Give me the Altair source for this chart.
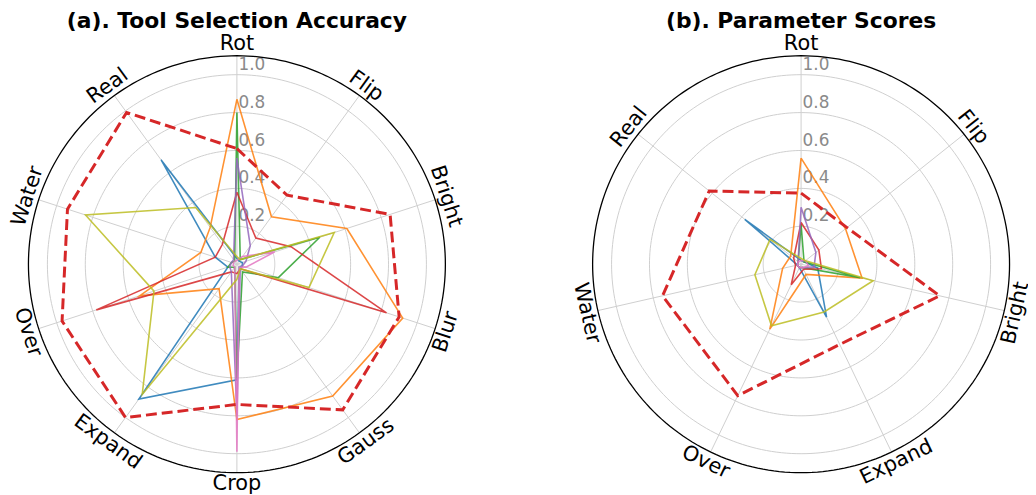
import altair as alt
import pandas as pd

# ---------------- data ----------------
AXES_A = ["Rot", "Flip", "Bright", "Blur", "Gauss", "Crop", "Expand", "Over", "Water", "Real"]
AXES_B = ["Rot", "Flip", "Bright", "Expand", "Over", "Water", "Real"]

SERIES_NAMES = ["M1", "M2", "M3", "M4", "M5", "M6", "M7", "Ours"]

# (a) Tool Selection Accuracy
a_m1 = [0.03, 0.02, 0.03, 0.03, 0.02, 0.61, 0.88, 0.05, 0.12, 0.68]
a_m2 = [0.87, 0.31, 0.61, 0.92, 0.86, 0.82, 0.16, 0.54, 0.20, 0.24]
a_m3 = [0.80, 0.03, 0.46, 0.23, 0.05, 0.60, 0.02, 0.05, 0.03, 0.02]
a_m4 = [0.38, 0.17, 0.30, 0.83, 0.03, 0.05, 0.05, 0.78, 0.12, 0.13]
a_m5 = [0.56, 0.12, 0.05, 0.03, 0.03, 0.80, 0.05, 0.04, 0.03, 0.03]
a_m6 = [0.02, 0.05, 0.21, 0.05, 0.02, 0.99, 0.02, 0.02, 0.02, 0.02]
a_m7 = [0.04, 0.03, 0.54, 0.40, 0.03, 0.08, 0.85, 0.46, 0.84, 0.37]
a_ours = [0.61, 0.45, 0.85, 0.90, 0.95, 0.74, 1.00, 0.97, 0.94, 0.99]

# (b) Parameter Scores
b_m1 = [0.02, 0.02, 0.09, 0.31, 0.02, 0.02, 0.38]
b_m2 = [0.56, 0.30, 0.33, 0.06, 0.38, 0.10, 0.07]
b_m3 = [0.21, 0.02, 0.32, 0.02, 0.02, 0.02, 0.02]
b_m4 = [0.22, 0.12, 0.11, 0.03, 0.12, 0.03, 0.05]
b_m5 = [0.30, 0.10, 0.07, 0.02, 0.02, 0.02, 0.02]
b_m6 = [0.02, 0.03, 0.04, 0.02, 0.02, 0.02, 0.02]
b_m7 = [0.03, 0.03, 0.39, 0.28, 0.36, 0.25, 0.21]
b_ours = [0.375, 0.31, 0.75, 0.47, 0.77, 0.75, 0.62]

RING_VALUES = [0.2, 0.4, 0.6, 0.8, 1.0]
RING_LABELS = ["0.2", "0.4", "0.6", "0.8", "1.0"]
R_MAX = 1.1

TITLES = {"a": "(a). Tool Selection Accuracy", "b": "(b). Parameter Scores"}

COLORS = ["#1f77b4", "#ff7f0e", "#2ca02c", "#d62728", "#9467bd", "#e377c2", "#bcbd22", "#d62728"]
OPAC = [0.85, 0.85, 0.85, 0.85, 0.85, 0.85, 0.5, 1.0]

# ---------------- layout ----------------
U = 191.0
W, H = 1028, 487
CAX, CBX, CY = 230.7, 799.3, 256.3
XOFF_B = (CBX - CAX) / U
XDOM = [-CAX / U, (W - CAX) / U]
YDOM = [-(H - CY) / U, CY / U]
OFF = f"(datum.panel == 'b' ? {XOFF_B} : 0)"
FONT = "DejaVu Sans"


def xsc():
    return alt.Scale(domain=XDOM, nice=False, zero=False)


def ysc():
    return alt.Scale(domain=YDOM, nice=False, zero=False)


# ---------------- tables ----------------
series_a = dict(zip(SERIES_NAMES, [a_m1, a_m2, a_m3, a_m4, a_m5, a_m6, a_m7, a_ours]))
series_b = dict(zip(SERIES_NAMES, [b_m1, b_m2, b_m3, b_m4, b_m5, b_m6, b_m7, b_ours]))

rows = []
for panel, axes, table in [("a", AXES_A, series_a), ("b", AXES_B, series_b)]:
    n = len(axes)
    for name, vals in table.items():
        for i in range(n + 1):
            rows.append(dict(panel=panel, series=name, idx=i, k=i % n, n=n, v=vals[i % n]))
series_df = pd.DataFrame(rows)

ring_rows = []
NSEG = 240
for panel in ["a", "b"]:
    for r in RING_VALUES + [R_MAX]:
        for k in range(NSEG + 1):
            ring_rows.append(dict(panel=panel, r=r, k=k, outer=(r == R_MAX)))
ring_df = pd.DataFrame(ring_rows)

spoke_rows, label_rows = [], []
for panel, axes in [("a", AXES_A), ("b", AXES_B)]:
    n = len(axes)
    for k, lab in enumerate(axes):
        spoke_rows.append(dict(panel=panel, k=k, n=n))
        label_rows.append(dict(panel=panel, k=k, n=n, label=lab))
spoke_df = pd.DataFrame(spoke_rows)
label_df = pd.DataFrame(label_rows)

rl_rows = []
for panel in ["a", "b"]:
    for r, t in zip(RING_VALUES, RING_LABELS):
        rl_rows.append(dict(panel=panel, r=r, t=t))
rl_df = pd.DataFrame(rl_rows)

title_df = pd.DataFrame([dict(panel=p, t=t) for p, t in TITLES.items()])

# ---------------- layers ----------------
rings = (
    alt.Chart(ring_df)
    .transform_filter("!datum.outer")
    .transform_calculate(th=f"2*PI*datum.k/{NSEG}")
    .transform_calculate(x=f"{OFF} + datum.r*sin(datum.th)", y="datum.r*cos(datum.th)")
    .mark_line(color="#cfcfcf", strokeWidth=1)
    .encode(
        x=alt.X("x:Q", scale=xsc(), axis=None),
        y=alt.Y("y:Q", scale=ysc(), axis=None),
        detail=["panel:N", "r:Q"],
        order="k:Q",
    )
)

outer = (
    alt.Chart(ring_df)
    .transform_filter("datum.outer")
    .transform_calculate(th=f"2*PI*datum.k/{NSEG}")
    .transform_calculate(x=f"{OFF} + datum.r*sin(datum.th)", y="datum.r*cos(datum.th)")
    .mark_line(color="#000000", strokeWidth=1.3)
    .encode(
        x=alt.X("x:Q", scale=xsc(), axis=None),
        y=alt.Y("y:Q", scale=ysc(), axis=None),
        detail=["panel:N"],
        order="k:Q",
    )
)

spokes = (
    alt.Chart(spoke_df)
    .transform_calculate(th="2*PI*datum.k/datum.n")
    .transform_calculate(
        x0=OFF, y0="0",
        x1=f"{OFF} + {R_MAX}*sin(datum.th)", y1=f"{R_MAX}*cos(datum.th)",
    )
    .mark_rule(color="#cfcfcf", strokeWidth=1)
    .encode(
        x=alt.X("x0:Q", scale=xsc(), axis=None),
        y=alt.Y("y0:Q", scale=ysc(), axis=None),
        x2="x1:Q",
        y2="y1:Q",
    )
)

rlabels = (
    alt.Chart(rl_df)
    .transform_calculate(x=f"{OFF} + 0.008", y="datum.r + 0.026")
    .mark_text(align="left", baseline="alphabetic", font=FONT, fontSize=17, color="#8a8a8a")
    .encode(
        x=alt.X("x:Q", scale=xsc(), axis=None),
        y=alt.Y("y:Q", scale=ysc(), axis=None),
        text="t:N",
    )
)

color_scale = alt.Scale(domain=SERIES_NAMES, range=COLORS)
opac_scale = alt.Scale(domain=SERIES_NAMES, range=OPAC)

base_series = (
    alt.Chart(series_df)
    .transform_calculate(th="2*PI*datum.k/datum.n")
    .transform_calculate(x=f"{OFF} + datum.v*sin(datum.th)", y="datum.v*cos(datum.th)")
)

thin = (
    base_series.transform_filter("datum.series != 'Ours'")
    .mark_line(strokeWidth=1.6)
    .encode(
        x=alt.X("x:Q", scale=xsc(), axis=None),
        y=alt.Y("y:Q", scale=ysc(), axis=None),
        color=alt.Color("series:N", scale=color_scale, legend=None),
        opacity=alt.Opacity("series:N", scale=opac_scale, legend=None),
        detail="panel:N",
        order="idx:Q",
    )
)

ours = (
    base_series.transform_filter("datum.series == 'Ours'")
    .mark_line(strokeWidth=3, strokeDash=[11, 5], color="#d62728")
    .encode(
        x=alt.X("x:Q", scale=xsc(), axis=None),
        y=alt.Y("y:Q", scale=ysc(), axis=None),
        detail="panel:N",
        order="idx:Q",
    )
)

labels = (
    alt.Chart(label_df)
    .transform_calculate(th="2*PI*datum.k/datum.n", deg="360*datum.k/datum.n")
    .transform_calculate(
        x=f"{OFF} + 1.16*sin(datum.th)",
        y="1.16*cos(datum.th)",
        rot="(datum.deg > 90 && datum.deg < 270) ? datum.deg - 180 : datum.deg",
    )
    .transform_calculate(rot2="(datum.rot + 360) % 360")
    .mark_text(align="center", baseline="middle", font=FONT, fontSize=21, color="#000000")
    .encode(
        x=alt.X("x:Q", scale=xsc(), axis=None),
        y=alt.Y("y:Q", scale=ysc(), axis=None),
        text="label:N",
        angle=alt.Angle("rot2:Q", scale=None),
    )
)

titles = (
    alt.Chart(title_df)
    .transform_calculate(x=OFF, y="1.244")
    .mark_text(align="center", baseline="alphabetic", font=FONT, fontSize=22, fontWeight="bold", color="#000000")
    .encode(
        x=alt.X("x:Q", scale=xsc(), axis=None),
        y=alt.Y("y:Q", scale=ysc(), axis=None),
        text="t:N",
    )
)

chart = (
    alt.layer(rings, spokes, rlabels, thin, ours, outer, labels, titles)
    .properties(width=W, height=H, padding=0, autosize=alt.AutoSizeParams(type="none"), background="white")
    .configure_view(stroke=None)
)

chart.save("out.html", embed_options={"renderer": "svg", "actions": False})
